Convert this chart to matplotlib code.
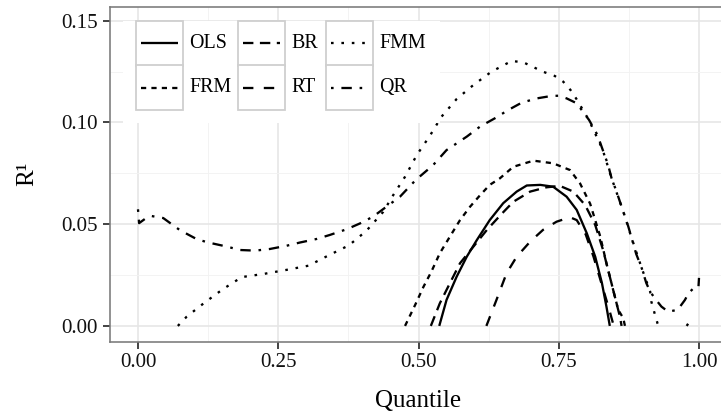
import matplotlib
matplotlib.use("Agg")
import matplotlib.pyplot as plt
from matplotlib.patches import Rectangle
from matplotlib.lines import Line2D
from matplotlib.ticker import FixedLocator

plt.rcParams['font.family'] = ['Liberation Serif', 'DejaVu Serif']
plt.rcParams['lines.scale_dashes'] = False

# ---- data: R^1 by quantile for each method ----
ols_q = [0.537, 0.550, 0.568, 0.586, 0.604, 0.627, 0.651, 0.675, 0.693, 0.717,
         0.740, 0.764, 0.782, 0.800, 0.815, 0.827, 0.835, 0.841]
ols_r = [0.000, 0.0128, 0.0242, 0.034, 0.0422, 0.052, 0.0603, 0.066, 0.0690, 0.0693,
         0.0684, 0.0635, 0.057, 0.0455, 0.034, 0.021, 0.0095, 0.000]

br_q = [0.522, 0.538, 0.556, 0.574, 0.598, 0.622, 0.648, 0.669, 0.699, 0.728,
        0.752, 0.776, 0.797, 0.815, 0.829, 0.841, 0.853, 0.859, 0.862]
br_r = [0.000, 0.0111, 0.021, 0.0308, 0.039, 0.0472, 0.055, 0.061, 0.066, 0.0681,
        0.0688, 0.066, 0.0594, 0.0496, 0.0373, 0.0242, 0.0111, 0.0046, 0.000]

fmm_q = [0.071, 0.087, 0.118, 0.151, 0.185, 0.223, 0.264, 0.304, 0.340, 0.376,
         0.407, 0.437, 0.455, 0.476, 0.497, 0.520, 0.541, 0.568, 0.598, 0.630,
         0.666, 0.687, 0.722, 0.743, 0.758, 0.771, 0.782, 0.804, 0.828, 0.844,
         0.862, 0.868, 0.880, 0.898, 0.913, 0.915, 0.920, 0.926, 0.928,
         0.950,
         0.978, 0.984, 0.990]
fmm_r = [0.000, 0.0046, 0.0113, 0.018, 0.024, 0.0255, 0.0275, 0.0296, 0.0347, 0.0396,
         0.0467, 0.056, 0.0643, 0.0733, 0.084, 0.0933, 0.1028, 0.1115, 0.1184, 0.1249,
         0.1302, 0.1295, 0.1249, 0.1228, 0.120, 0.1159, 0.1113, 0.101, 0.0868, 0.0727,
         0.0586, 0.0537, 0.0431, 0.0283, 0.0168, 0.012, 0.007, 0.0013, 0.000,
         float('nan'),
         0.000, 0.0025, 0.0038]

frm_q = [0.476, 0.494, 0.509, 0.523, 0.538, 0.556, 0.574, 0.592, 0.610, 0.627,
         0.645, 0.669, 0.705, 0.740, 0.770, 0.788, 0.806, 0.824, 0.835, 0.847,
         0.856, 0.865, 0.868]
frm_r = [0.000, 0.0103, 0.0193, 0.0267, 0.0357, 0.0439, 0.052, 0.0586, 0.0643, 0.0693,
         0.0725, 0.0782, 0.0812, 0.0799, 0.0766, 0.070, 0.060, 0.0439, 0.0308, 0.0177,
         0.0079, 0.0038, 0.000]

rt_q = [0.621, 0.639, 0.657, 0.675, 0.699, 0.722, 0.746, 0.770, 0.782, 0.798,
        0.812, 0.826, 0.840, 0.848]
rt_r = [0.000, 0.0128, 0.0259, 0.034, 0.0414, 0.0472, 0.0512, 0.0534, 0.052, 0.045,
        0.034, 0.021, 0.008, 0.000]

qr_q = [0.000, 0.002, 0.012, 0.024, 0.045, 0.075, 0.105, 0.125, 0.158, 0.182,
        0.209, 0.235, 0.265, 0.289, 0.318, 0.342, 0.372, 0.396, 0.419, 0.443,
        0.467, 0.495, 0.526, 0.550, 0.568, 0.586, 0.610, 0.636, 0.660, 0.684,
        0.711, 0.737, 0.750, 0.764, 0.782, 0.804, 0.819, 0.828, 0.838, 0.844,
        0.853, 0.862, 0.868, 0.874, 0.880, 0.888, 0.898, 0.906, 0.913, 0.922,
        0.933, 0.945, 0.962, 0.975, 0.981, 0.992, 0.999, 1.000]
qr_r = [0.0573, 0.0505, 0.0525, 0.054, 0.053, 0.047, 0.0426, 0.041, 0.039, 0.0373,
        0.037, 0.0378, 0.0394, 0.041, 0.0427, 0.0447, 0.0475, 0.0504, 0.0537, 0.0586,
        0.0635, 0.0717, 0.079, 0.0864, 0.0897, 0.093, 0.098, 0.102, 0.1061, 0.1097,
        0.1118, 0.113, 0.1131, 0.1118, 0.1094, 0.1012, 0.0938, 0.0868, 0.0791, 0.0727,
        0.066, 0.0586, 0.0537, 0.0488, 0.0431, 0.0354, 0.0283, 0.0211, 0.0168, 0.0133,
        0.0095, 0.007, 0.0079, 0.0128, 0.016, 0.019, 0.019, 0.0236]

x_ticks = [0.00, 0.25, 0.50, 0.75, 1.00]
y_ticks = [0.00, 0.05, 0.10, 0.15]

series = {
    "OLS": (ols_q, ols_r),
    "BR": (br_q, br_r),
    "FMM": (fmm_q, fmm_r),
    "FRM": (frm_q, frm_r),
    "RT": (rt_q, rt_r),
    "QR": (qr_q, qr_r),
}

# line patterns (on/off lengths in points)
styles = {
    "OLS": "solid",
    "BR": (0, (10.4, 6.5)),
    "FMM": (0, (2.6, 7.8)),
    "FRM": (0, (5.2, 5.2)),
    "RT": (0, (10.4, 10.4)),
    "QR": (0, (2.6, 7.8, 10.4, 7.8)),
}
LW = 2.3

W, H = 721, 419
fig = plt.figure(figsize=(W / 72, H / 72), dpi=72)
fig.patch.set_facecolor("white")

# panel in pixel units: left 110, right 727, top 7, bottom 342
ax = fig.add_axes([110 / W, (H - 342) / H, (727 - 110) / W, (342 - 7) / H])
ax.set_xlim(-0.0499, 1.0499)
ax.set_ylim(-0.0079, 0.1567)

ax.xaxis.set_major_locator(FixedLocator(x_ticks))
ax.yaxis.set_major_locator(FixedLocator(y_ticks))
ax.xaxis.set_minor_locator(FixedLocator([0.125, 0.375, 0.625, 0.875]))
ax.yaxis.set_minor_locator(FixedLocator([0.025, 0.075, 0.125]))
ax.set_xticklabels([f"{v:.2f}" for v in x_ticks])
ax.set_yticklabels([f"{v:.2f}" for v in y_ticks])

ax.grid(True, which="major", color="#e6e6e6", lw=1.6)
ax.grid(True, which="minor", color="#f2f2f2", lw=0.9)
ax.set_axisbelow(True)

ax.tick_params(which="major", length=7, width=1.8, color="#333333",
               labelsize=21, labelcolor="#111111")
ax.tick_params(axis="x", which="major", pad=4)
ax.tick_params(axis="y", which="major", pad=5)
ax.tick_params(which="minor", length=0)

for sp in ax.spines.values():
    sp.set_color("#7a7a7a")
    sp.set_linewidth(1.6)

for name, (q, r) in series.items():
    ax.plot(q, r, color="black", lw=LW, linestyle=styles[name],
            solid_capstyle="butt", dash_capstyle="butt", zorder=3)

# axis titles
fig.text(418 / W, 1 - 401 / H, "Quantile", ha="center", va="center", fontsize=25)
fig.text(27 / W, 1 - 174 / H, "R¹", ha="center", va="center", fontsize=25,
         rotation=90)

# legend drawn in pixel coordinates on an overlay
lg = fig.add_axes([0, 0, 1, 1], zorder=5)
lg.set_xlim(0, W)
lg.set_ylim(H, 0)
lg.axis("off")
lg.add_patch(Rectangle((123, 21), 440 - 123, 123 - 21, facecolor="white",
                       edgecolor="none"))

legend_rows = [["OLS", "BR", "FMM"], ["FRM", "RT", "QR"]]
col_left = [136, 238, 326]
row_top = [20.5, 65]
key_w, key_h = 47, 45
for ri, row in enumerate(legend_rows):
    for ci, name in enumerate(row):
        x0, y0 = col_left[ci], row_top[ri]
        lg.add_patch(Rectangle((x0, y0), key_w, key_h, facecolor="white",
                               edgecolor="#cfcfcf", lw=1.8))
        yc = y0 + key_h / 2
        lg.add_line(Line2D([x0 + 5, x0 + key_w - 5], [yc, yc], color="black",
                           lw=LW, linestyle=styles[name],
                           solid_capstyle="butt", dash_capstyle="butt"))
        lg.text(x0 + key_w + 6, yc, name, ha="left", va="center", fontsize=20)

fig.savefig("out.png", dpi=72)
